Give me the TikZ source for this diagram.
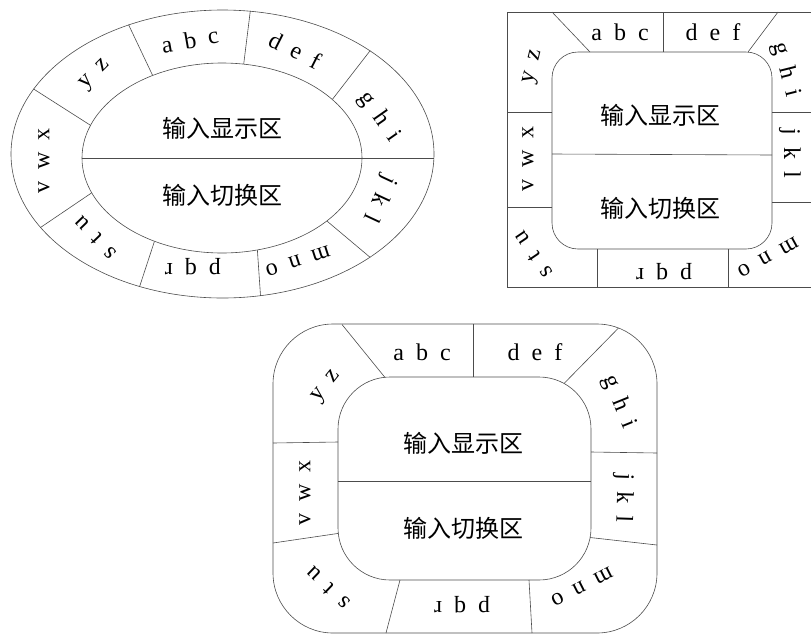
\documentclass[tikz,border=0pt]{standalone}
\usepackage{fontspec}
\setmainfont{Liberation Serif}
\newfontfamily\cjk{Noto Sans CJK SC}
\usetikzlibrary{shapes.geometric}
\tikzset{ring/.style={draw=black!70,line width=0.6pt},
         key/.style={font=\fontsize{24}{24}\selectfont,inner sep=0pt},
         zone/.style={font=\fontsize{24}{24}\selectfont\cjk,inner sep=0pt}}
\newcommand\gp{\hspace{0.5em}}

\begin{document}
\begin{tikzpicture}[x=1pt,y=-1pt]
            \useasboundingbox (0,0) rectangle (811,635);

            % elliptic keyboard
            \node[ring, ellipse, minimum width=423pt, minimum height=288pt] (eout) at (222.5,154) {};
            \node[ring, ellipse, minimum width=280pt, minimum height=190pt] (ein) at (222,158) {};
            \path[ring]
            (ein.130) edge (eout.126)
            (ein.77) edge (eout.79)
            (ein.28) edge (eout.35)
            (ein.west) edge (ein.west -| eout.east)
            (ein.-31) edge (eout.-35)
            (ein.-69) edge (eout.-75)
            (ein.-129) edge (eout.-122)
            (ein.-165) edge (eout.-158)
            (ein.166) edge (eout.161);
            \node[key, rotate=10] (e-abc) at (190,40) {a\gp b\gp c};
            \node[key, rotate=-27] (e-def) at (295,50) {d\gp e\gp f};
            \node[key, rotate=-55] (e-ghi) at (379,117) {g\gp h\gp i};
            \node[key, rotate=-115] (e-jkl) at (379,199) {j\gp k\gp l};
            \node[key, rotate=-162] (e-mno) at (298,261) {m\gp n\gp o};
            \node[key, rotate=180] (e-pqr) at (193,267) {p\gp q\gp r};
            \node[key, rotate=134] (e-stu) at (95,238) {s\gp t\gp u};
            \node[key, rotate=90] (e-vwx) at (44,161) {v\gp w\gp x};
            \node[key, rotate=45] (e-yz) at (96,75) {y\gp z};
            \node[zone] (e-show) at (222,128) {输入显示区};
            \node[zone] (e-switch) at (222,195) {输入切换区};

            % square keyboard
            \draw[ring] (811,12) -| (507,287) -- (811,287);
            \node[ring, rounded corners=26pt, minimum width=220pt, minimum height=197pt] (rin) at (662,150.5) {};
            \path[ring]
            (552,154) edge (772,155)
            (590,52) edge (552,12)
            (663,52) edge (663,12)
            (748,52) edge (778,12)
            (772,112) edge (811,112)
            (772,202) edge (811,202)
            (728,249) edge (728,287)
            (597,249) edge (597,287)
            (552,207) edge (507,207)
            (552,112) edge (507,112);
            \node[key] (r-abc) at (620,32) {a\gp b\gp c};
            \node[key] (r-def) at (713,32) {d\gp e\gp f};
            \node[key, rotate=-76] (r-ghi) at (786,70) {g\gp h\gp i};
            \node[key, rotate=-90] (r-jkl) at (790,153) {j\gp k\gp l};
            \node[key, rotate=-151] (r-mno) at (768,257) {m\gp n\gp o};
            \node[key, rotate=180] (r-pqr) at (664,272) {p\gp q\gp r};
            \node[key, rotate=124] (r-stu) at (533,255) {s\gp t\gp u};
            \node[key, rotate=90] (r-vwx) at (528,159) {v\gp w\gp x};
            \node[key, rotate=76] (r-yz) at (534,67) {y\gp z};
            \node[zone] (r-show) at (660,115) {输入显示区};
            \node[zone] (r-switch) at (660,208) {输入切换区};

            % rounded keyboard
            \node[ring, rounded corners=60pt, minimum width=384pt, minimum height=309pt] (sout) at (465,478.5) {};
            \node[ring, rounded corners=52pt, minimum width=253pt, minimum height=203pt] (sin) at (464.5,478.5) {};
            \path[ring]
            (338,481) edge (591,481)
            (385,377.5) edge (342,324.5)
            (473,377) edge (473,324)
            (564,383.5) edge (618.5,328)
            (591,452) edge (657,453)
            (590,537.5) edge (657,545)
            (529,580) edge (532,633)
            (400,580) edge (386,633)
            (338.3,533.4) edge (273,543)
            (338,442) edge (273,443);
            \node[key] (s-abc) at (422,352) {a\gp b\gp c};
            \node[key] (s-def) at (535,352) {d\gp e\gp f};
            \node[key, rotate=-68] (s-ghi) at (619,402) {g\gp h\gp i};
            \node[key, rotate=-92] (s-jkl) at (623,498) {j\gp k\gp l};
            \node[key, rotate=-153] (s-mno) at (582,587) {m\gp n\gp o};
            \node[key, rotate=180] (s-pqr) at (462,605) {p\gp q\gp r};
            \node[key, rotate=136] (s-stu) at (328,588) {s\gp t\gp u};
            \node[key, rotate=90] (s-vwx) at (305,493) {v\gp w\gp x};
            \node[key, rotate=51] (s-yz) at (327,387) {y\gp z};
            \node[zone] (s-show) at (463,443) {输入显示区};
            \node[zone] (s-switch) at (463,528) {输入切换区};
        \end{tikzpicture}
\end{document}
